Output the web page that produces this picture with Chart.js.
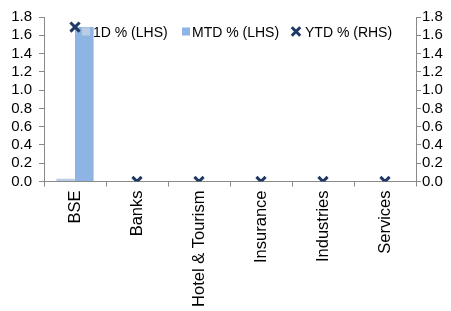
<!DOCTYPE html>
<html>
<head>
<meta charset="utf-8">
<script src="https://cdn.jsdelivr.net/npm/chart.js@4"></script>
<style>
  html, body { margin: 0; padding: 0; background: #fff; }
  #wrap { width: 451px; height: 311px; }
</style>
</head>
<body>
<div id="wrap"><canvas id="chart" width="451" height="311"></canvas></div>
<script>
'use strict';

// ── Data ─────────────────────────────────────────────────────────
const categories  = ['BSE', 'Banks', 'Hotel & Tourism', 'Insurance', 'Industries', 'Services'];
const oneDay      = [0.03, 0, 0, 0, 0, 0];
const monthToDate = [1.69, 0, 0, 0, 0, 0];
const yearToDate  = [1.69, 0, 0, 0, 0, 0];
const axisTicks   = [0, 0.2, 0.4, 0.6, 0.8, 1.0, 1.2, 1.4, 1.6, 1.8];

// ── Styles ───────────────────────────────────────────────────────
const FONT  = 'Liberation Sans, Arial, sans-serif';
const AXIS  = '#898989';
const C_1D  = '#b9cde5';
const C_MTD = '#8db4e2';
const C_YTD = '#1f3864';

// ── Legend drawn inside the plot, on top of the bars (Excel style) ──
const inlineLegend = {
    id: 'inlineLegend',
    afterDatasetsDraw(chart) {
        const ctx = chart.ctx;
        const swatchX = [82, 182, 296];   // centre for marker, left edge for squares
        const textX   = [93, 192, 305];
        const midY = 31.5;
        ctx.save();
        chart.data.datasets.forEach((ds, i) => {
            if (ds.type === 'line') {
                const h = 6 * Math.SQRT1_2;
                ctx.strokeStyle = ds.borderColor;
                ctx.lineWidth = 3;
                ctx.beginPath();
                ctx.moveTo(swatchX[i] - h, midY - h); ctx.lineTo(swatchX[i] + h, midY + h);
                ctx.moveTo(swatchX[i] + h, midY - h); ctx.lineTo(swatchX[i] - h, midY + h);
                ctx.stroke();
            } else {
                ctx.fillStyle = ds.backgroundColor;
                ctx.fillRect(swatchX[i], midY - 4, 8, 8);
            }
            ctx.fillStyle = '#000';
            ctx.font = '14px ' + FONT;
            ctx.textBaseline = 'alphabetic';
            ctx.textAlign = 'left';
            ctx.fillText(ds.label, textX[i], 36.5);
        });
        ctx.restore();
    }
};

const yAxis = (position, pad, width) => ({
    type: 'linear',
    position,
    min: 0,
    max: axisTicks[axisTicks.length - 1],
    afterBuildTicks: s => { s.ticks = axisTicks.map(v => ({ value: v })); },
    afterFit: s => { s.width = width; },
    border: { color: AXIS, width: 1 },
    grid: { drawOnChartArea: false, tickLength: 5, color: AXIS },
    ticks: {
        autoSkip: false,
        padding: pad,
        color: '#000',
        font: { family: FONT, size: 15 },
        callback: v => Number(v).toFixed(1)
    }
});

new Chart(document.getElementById('chart'), {
    type: 'bar',
    data: {
        labels: categories,
        datasets: [
            {
                label: '1D % (LHS)',
                data: oneDay,
                backgroundColor: C_1D,
                yAxisID: 'y',
                barPercentage: 1,
                categoryPercentage: 0.6,
                order: 2
            },
            {
                label: 'MTD % (LHS)',
                data: monthToDate,
                backgroundColor: C_MTD,
                yAxisID: 'y',
                barPercentage: 1,
                categoryPercentage: 0.6,
                order: 2
            },
            {
                type: 'line',
                label: 'YTD % (RHS)',
                data: yearToDate,
                yAxisID: 'y2',
                showLine: false,
                pointStyle: 'crossRot',
                pointRadius: 6.5,
                pointBorderWidth: 3,
                borderWidth: 3,
                borderColor: C_YTD,
                backgroundColor: C_YTD,
                order: 1
            }
        ]
    },
    options: {
        responsive: false,
        animation: false,
        devicePixelRatio: 1,
        layout: { padding: { top: 17, left: 0, right: 0, bottom: 0 } },
        plugins: {
            legend: { display: false },
            tooltip: { enabled: false }
        },
        scales: {
            x: {
                offset: true,
                afterFit: s => { s.height = 129.5; },
                border: { color: AXIS, width: 1 },
                grid: { offset: true, drawOnChartArea: false, tickLength: 5, color: AXIS },
                ticks: {
                    autoSkip: false,
                    maxRotation: 90,
                    minRotation: 90,
                    padding: 4,
                    color: '#000',
                    font: { family: FONT, size: 16.5 }
                }
            },
            y: yAxis('left', 7, 44),
            y2: yAxis('right', 1, 35)
        }
    },
    plugins: [inlineLegend]
});
</script>
</body>
</html>
